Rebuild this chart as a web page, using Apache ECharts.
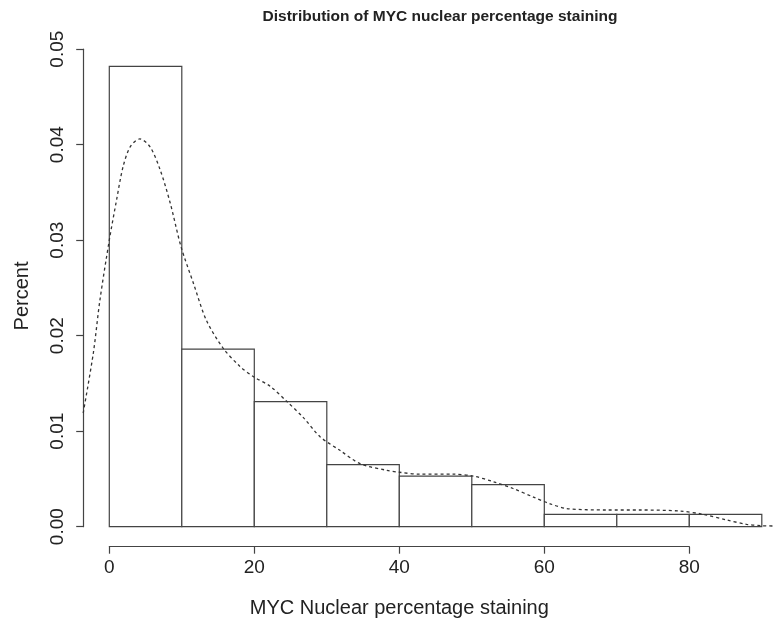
<!DOCTYPE html>
<html>
<head>
<meta charset="utf-8">
<script src="https://cdn.jsdelivr.net/npm/echarts@6/dist/echarts.min.js"></script>
<style>
  html, body { margin: 0; padding: 0; background: #fff; }
  #chart { width: 775px; height: 625px; }
</style>
</head>
<body>
<div id="chart"></div>
<script>
// histogram bins (MYC nuclear %), density per bin
const binStart = [0, 10, 20, 30, 40, 50, 60, 70, 80]
const binEnd = [10, 20, 30, 40, 50, 60, 70, 80, 90]
const binDensity = [0.0482, 0.0186, 0.0131, 0.0065, 0.0053, 0.0044, 0.0013, 0.0013, 0.0013]

// kernel density curve
const densX = [-3.6, -2.2, -1.3, 0, 1.0, 1.9, 2.9, 4.2, 5.6, 7.0, 8.4, 9.9, 11.6, 13.4, 15.7, 18.0, 19.9, 22.2, 24.5, 26.8,
  29.1, 31.8, 34.6, 38.3, 40, 42.9, 47.4, 50.2, 53, 55.7, 58.5, 60.8, 63.1, 68.6, 73.2, 78.7, 81.9, 85.2, 87.9, 90, 92]
const densY = [0.0119, 0.0182, 0.0237, 0.0300, 0.0342, 0.0377, 0.0398, 0.0406, 0.0398, 0.0374, 0.0339, 0.0293, 0.0255, 0.0216,
  0.0187, 0.0168, 0.0157, 0.0147, 0.0131, 0.0114, 0.0094, 0.0080, 0.0066, 0.0059, 0.0057, 0.0055, 0.0055, 0.0053, 0.0047,
  0.0040, 0.0031, 0.0024, 0.0019, 0.00175, 0.00175, 0.00164, 0.0013, 0.0007, 0.00025, 0.0001, 0.00007]

const yTicks = [0, 0.01, 0.02, 0.03, 0.04, 0.05]
const xTicks = [0, 20, 40, 60, 80]

const LINE = '#444'
const TEXT = '#222'
const FONT = 'Liberation Sans, Arial, sans-serif'

const chart = echarts.init(document.getElementById('chart'))

const option = {
  backgroundColor: '#fff',
  animation: false,
  title: {
    text: 'Distribution of MYC nuclear percentage staining',
    left: 435, top: 4, textAlign: 'center',
    textStyle: { fontFamily: FONT, fontSize: 15.5, fontWeight: 'bold', color: TEXT }
  },
  graphic: [{
    type: 'text', x: 22, y: 296, rotation: Math.PI / 2,
    style: { text: 'Percent', fontFamily: FONT, fontSize: 20, fill: TEXT, align: 'center', verticalAlign: 'middle' }
  }],
  grid: [
    { left: 83.2, right: 0, top: 49.2, bottom: 98.3 },
    // separate strip just for the R-style x axis (0..80)
    { left: 109.3, right: 85.7, top: 545.7, height: 1 }
  ],
  xAxis: [
    { type: 'value', gridIndex: 0, min: -3.6, max: 91.82, show: false },
    {
      type: 'value', gridIndex: 1, min: 0, max: 80, interval: 20,
      axisLine: { show: true, lineStyle: { color: LINE, width: 1.2 } },
      axisTick: { show: true, length: 7, lineStyle: { color: LINE, width: 1.2 } },
      splitLine: { show: false },
      axisLabel: { customValues: xTicks, margin: 12, fontFamily: FONT, fontSize: 19, color: TEXT },
      name: 'MYC Nuclear percentage staining',
      nameLocation: 'middle', nameGap: 52,
      nameTextStyle: { fontFamily: FONT, fontSize: 20, color: TEXT }
    }
  ],
  yAxis: [
    {
      type: 'value', gridIndex: 0, min: 0, max: 0.05, interval: 0.01,
      axisLine: { show: true, onZero: false, lineStyle: { color: LINE, width: 1.2 } },
      axisTick: { show: true, length: 7, lineStyle: { color: LINE, width: 1.2 } },
      splitLine: { show: false },
      axisLabel: {
        customValues: yTicks, rotate: 90, margin: 16,
        fontFamily: FONT, fontSize: 19, color: TEXT,
        formatter: v => v.toFixed(2)
      }
    },
    { type: 'value', gridIndex: 1, show: false }
  ],
  series: [
    {
      type: 'custom',
      xAxisIndex: 0, yAxisIndex: 0,
      data: binStart.map((s, i) => [s, binEnd[i], binDensity[i]]),
      renderItem: (params, api) => {
        const p0 = api.coord([api.value(0), api.value(2)])
        const p1 = api.coord([api.value(1), 0])
        return {
          type: 'rect',
          shape: { x: p0[0], y: p0[1], width: p1[0] - p0[0], height: p1[1] - p0[1] },
          style: { fill: '#fff', stroke: LINE, lineWidth: 1.2 }
        }
      }
    },
    {
      type: 'line',
      xAxisIndex: 0, yAxisIndex: 0,
      data: densX.map((x, i) => [x, densY[i]]),
      smooth: 0.3,
      showSymbol: false,
      lineStyle: { color: '#333', width: 1.3, type: [3, 3] },
      z: 5
    }
  ]
}

chart.setOption(option)
</script>
</body>
</html>
